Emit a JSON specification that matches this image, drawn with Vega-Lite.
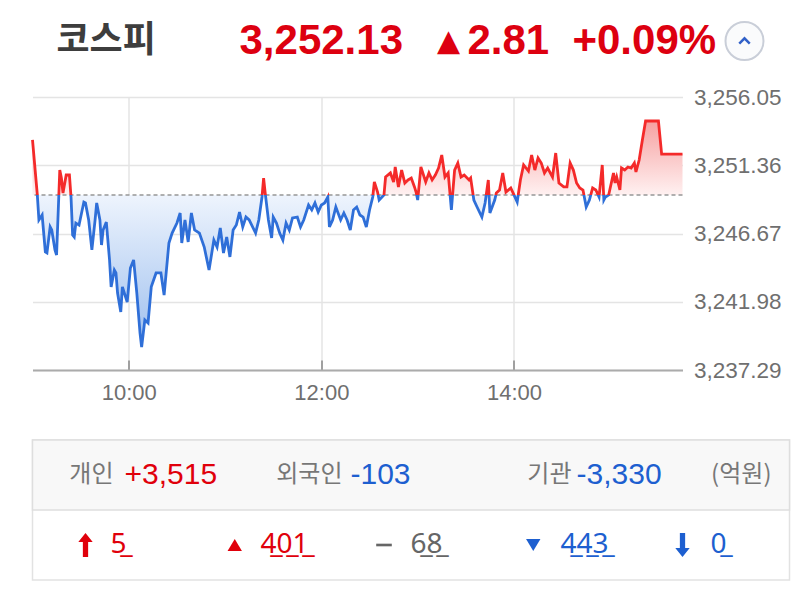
{
  "$schema": "https://vega.github.io/schema/vega-lite/v6.json",
  "padding": {"left": 26.5, "top": 0, "right": 10, "bottom": 10},
  "background": "white",
  "bounds": "flush",
  "spacing": 15,
  "config": {"view": {"stroke": null}, "font": "Liberation Sans"},
  "resolve": {"scale": {"color": "independent", "size": "independent", "shape": "independent"}},
  "datasets": {
    "header": [
      {"part": "name", "text": "코스피"},
      {"part": "quote", "text": "3,252.13\u00a0\u00a0\u00a0▴\u20092.81\u00a0\u00a0+0.09%"}
    ],
    "investors": [
      {"row": "r1", "item": "개인", "label": "개인", "net": "+3,515", "dir": "up"},
      {"row": "r1", "item": "외국인", "label": "외국인", "net": "-103", "dir": "down"},
      {"row": "r1", "item": "기관", "label": "기관", "net": "-3,330", "dir": "down"}
    ],
    "unit": [
      {"row": "r1", "item": "단위", "label": "(억원)"}
    ],
    "breadth": [
      {"row": "r2", "item": "상한", "count": 5, "dir": "up"},
      {"row": "r2", "item": "상승", "count": 401, "dir": "up"},
      {"row": "r2", "item": "보합", "count": 68, "dir": "flat"},
      {"row": "r2", "item": "하락", "count": 443, "dir": "down"},
      {"row": "r2", "item": "하한", "count": 0, "dir": "down"}
    ],
    "price": [
      {"t":"2025-07-01T09:00","v":3253.10},{"t":"2025-07-01T09:03","v":3249.32},{"t":"2025-07-01T09:04","v":3247.60},{"t":"2025-07-01T09:06","v":3247.94},
      {"t":"2025-07-01T09:08","v":3245.40},{"t":"2025-07-01T09:09","v":3245.33},{"t":"2025-07-01T09:11","v":3247.12},{"t":"2025-07-01T09:12","v":3246.91},
      {"t":"2025-07-01T09:14","v":3245.54},{"t":"2025-07-01T09:15","v":3245.19},{"t":"2025-07-01T09:17","v":3251.03},{"t":"2025-07-01T09:18","v":3250.48},
      {"t":"2025-07-01T09:19","v":3249.45},{"t":"2025-07-01T09:21","v":3250.69},{"t":"2025-07-01T09:23","v":3250.69},{"t":"2025-07-01T09:24","v":3249.18},
      {"t":"2025-07-01T09:25","v":3246.57},{"t":"2025-07-01T09:26","v":3246.43},{"t":"2025-07-01T09:27","v":3247.39},{"t":"2025-07-01T09:29","v":3247.25},
      {"t":"2025-07-01T09:32","v":3248.83},{"t":"2025-07-01T09:33","v":3248.77},{"t":"2025-07-01T09:35","v":3247.60},{"t":"2025-07-01T09:37","v":3245.54},
      {"t":"2025-07-01T09:39","v":3247.60},{"t":"2025-07-01T09:40","v":3248.77},{"t":"2025-07-01T09:42","v":3247.60},{"t":"2025-07-01T09:43","v":3245.88},
      {"t":"2025-07-01T09:44","v":3246.91},{"t":"2025-07-01T09:46","v":3247.46},{"t":"2025-07-01T09:48","v":3244.85},{"t":"2025-07-01T09:49","v":3243.00},
      {"t":"2025-07-01T09:51","v":3244.16},{"t":"2025-07-01T09:52","v":3243.96},{"t":"2025-07-01T09:53","v":3242.58},{"t":"2025-07-01T09:55","v":3241.28},
      {"t":"2025-07-01T09:56","v":3243.00},{"t":"2025-07-01T09:59","v":3241.96},{"t":"2025-07-01T10:01","v":3244.30},{"t":"2025-07-01T10:03","v":3244.85},
      {"t":"2025-07-01T10:05","v":3242.58},{"t":"2025-07-01T10:07","v":3239.83},{"t":"2025-07-01T10:08","v":3238.87},{"t":"2025-07-01T10:10","v":3240.73},
      {"t":"2025-07-01T10:12","v":3240.52},{"t":"2025-07-01T10:14","v":3243.00},{"t":"2025-07-01T10:17","v":3243.96},{"t":"2025-07-01T10:20","v":3243.96},
      {"t":"2025-07-01T10:22","v":3242.44},{"t":"2025-07-01T10:25","v":3246.02},{"t":"2025-07-01T10:27","v":3246.70},{"t":"2025-07-01T10:30","v":3247.39},
      {"t":"2025-07-01T10:32","v":3248.08},{"t":"2025-07-01T10:33","v":3246.02},{"t":"2025-07-01T10:35","v":3247.60},{"t":"2025-07-01T10:37","v":3246.09},
      {"t":"2025-07-01T10:39","v":3248.08},{"t":"2025-07-01T10:41","v":3246.91},{"t":"2025-07-01T10:44","v":3246.70},{"t":"2025-07-01T10:47","v":3245.74},
      {"t":"2025-07-01T10:50","v":3244.16},{"t":"2025-07-01T10:53","v":3246.22},{"t":"2025-07-01T10:55","v":3245.74},{"t":"2025-07-01T10:57","v":3247.05},
      {"t":"2025-07-01T10:59","v":3245.33},{"t":"2025-07-01T11:01","v":3246.43},{"t":"2025-07-01T11:03","v":3245.06},{"t":"2025-07-01T11:05","v":3246.91},
      {"t":"2025-07-01T11:07","v":3247.25},{"t":"2025-07-01T11:09","v":3248.15},{"t":"2025-07-01T11:11","v":3247.12},{"t":"2025-07-01T11:13","v":3247.80},
      {"t":"2025-07-01T11:15","v":3247.60},{"t":"2025-07-01T11:19","v":3246.70},{"t":"2025-07-01T11:21","v":3247.60},{"t":"2025-07-01T11:23","v":3249.18},
      {"t":"2025-07-01T11:24","v":3250.48},{"t":"2025-07-01T11:25","v":3249.45},{"t":"2025-07-01T11:27","v":3247.60},{"t":"2025-07-01T11:29","v":3246.36},
      {"t":"2025-07-01T11:30","v":3247.80},{"t":"2025-07-01T11:32","v":3247.39},{"t":"2025-07-01T11:34","v":3246.70},{"t":"2025-07-01T11:36","v":3246.22},
      {"t":"2025-07-01T11:38","v":3247.39},{"t":"2025-07-01T11:40","v":3246.91},{"t":"2025-07-01T11:42","v":3247.74},{"t":"2025-07-01T11:45","v":3247.80},
      {"t":"2025-07-01T11:47","v":3247.12},{"t":"2025-07-01T11:49","v":3247.60},{"t":"2025-07-01T11:52","v":3248.63},{"t":"2025-07-01T11:54","v":3248.29},
      {"t":"2025-07-01T11:56","v":3248.77},{"t":"2025-07-01T11:58","v":3248.15},{"t":"2025-07-01T12:00","v":3248.63},{"t":"2025-07-01T12:02","v":3248.77},
      {"t":"2025-07-01T12:04","v":3249.18},{"t":"2025-07-01T12:05","v":3247.12},{"t":"2025-07-01T12:07","v":3247.60},{"t":"2025-07-01T12:09","v":3248.49},
      {"t":"2025-07-01T12:12","v":3247.60},{"t":"2025-07-01T12:14","v":3248.08},{"t":"2025-07-01T12:16","v":3247.60},{"t":"2025-07-01T12:18","v":3246.91},
      {"t":"2025-07-01T12:20","v":3248.29},{"t":"2025-07-01T12:22","v":3248.49},{"t":"2025-07-01T12:24","v":3247.94},{"t":"2025-07-01T12:26","v":3247.80},
      {"t":"2025-07-01T12:28","v":3247.12},{"t":"2025-07-01T12:30","v":3248.29},{"t":"2025-07-01T12:32","v":3249.18},{"t":"2025-07-01T12:33","v":3250.21},
      {"t":"2025-07-01T12:35","v":3249.52},{"t":"2025-07-01T12:36","v":3248.97},{"t":"2025-07-01T12:39","v":3249.32},{"t":"2025-07-01T12:40","v":3250.55},
      {"t":"2025-07-01T12:43","v":3250.83},{"t":"2025-07-01T12:45","v":3250.21},{"t":"2025-07-01T12:46","v":3251.24},{"t":"2025-07-01T12:48","v":3249.87},
      {"t":"2025-07-01T12:50","v":3251.03},{"t":"2025-07-01T12:52","v":3250.14},{"t":"2025-07-01T12:54","v":3250.35},{"t":"2025-07-01T12:56","v":3250.48},
      {"t":"2025-07-01T12:58","v":3249.87},{"t":"2025-07-01T12:59","v":3249.52},{"t":"2025-07-01T13:00","v":3248.97},{"t":"2025-07-01T13:02","v":3251.24},
      {"t":"2025-07-01T13:05","v":3250.21},{"t":"2025-07-01T13:07","v":3250.83},{"t":"2025-07-01T13:09","v":3250.35},{"t":"2025-07-01T13:11","v":3250.69},
      {"t":"2025-07-01T13:13","v":3251.17},{"t":"2025-07-01T13:15","v":3252.06},{"t":"2025-07-01T13:17","v":3250.55},{"t":"2025-07-01T13:19","v":3250.83},
      {"t":"2025-07-01T13:21","v":3248.29},{"t":"2025-07-01T13:23","v":3251.03},{"t":"2025-07-01T13:25","v":3251.51},{"t":"2025-07-01T13:27","v":3250.55},
      {"t":"2025-07-01T13:29","v":3250.69},{"t":"2025-07-01T13:32","v":3250.35},{"t":"2025-07-01T13:33","v":3250.48},{"t":"2025-07-01T13:35","v":3248.97},
      {"t":"2025-07-01T13:37","v":3248.49},{"t":"2025-07-01T13:40","v":3247.80},{"t":"2025-07-01T13:42","v":3248.77},{"t":"2025-07-01T13:44","v":3250.35},
      {"t":"2025-07-01T13:45","v":3248.08},{"t":"2025-07-01T13:48","v":3248.97},{"t":"2025-07-01T13:49","v":3249.45},{"t":"2025-07-01T13:51","v":3249.66},
      {"t":"2025-07-01T13:53","v":3250.83},{"t":"2025-07-01T13:55","v":3249.52},{"t":"2025-07-01T13:58","v":3249.80},{"t":"2025-07-01T14:00","v":3249.32},
      {"t":"2025-07-01T14:02","v":3248.83},{"t":"2025-07-01T14:04","v":3250.35},{"t":"2025-07-01T14:06","v":3251.38},{"t":"2025-07-01T14:09","v":3250.96},
      {"t":"2025-07-01T14:11","v":3252.06},{"t":"2025-07-01T14:13","v":3251.03},{"t":"2025-07-01T14:15","v":3251.86},{"t":"2025-07-01T14:17","v":3251.51},
      {"t":"2025-07-01T14:19","v":3250.83},{"t":"2025-07-01T14:21","v":3251.17},{"t":"2025-07-01T14:24","v":3250.55},{"t":"2025-07-01T14:26","v":3252.20},
      {"t":"2025-07-01T14:28","v":3250.14},{"t":"2025-07-01T14:31","v":3249.87},{"t":"2025-07-01T14:33","v":3249.87},{"t":"2025-07-01T14:35","v":3251.51},
      {"t":"2025-07-01T14:37","v":3251.03},{"t":"2025-07-01T14:39","v":3250.14},{"t":"2025-07-01T14:41","v":3249.80},{"t":"2025-07-01T14:43","v":3249.66},
      {"t":"2025-07-01T14:45","v":3248.49},{"t":"2025-07-01T14:47","v":3248.97},{"t":"2025-07-01T14:49","v":3249.80},{"t":"2025-07-01T14:51","v":3249.66},
      {"t":"2025-07-01T14:53","v":3249.18},{"t":"2025-07-01T14:55","v":3251.38},{"t":"2025-07-01T14:56","v":3248.97},{"t":"2025-07-01T14:57","v":3249.18},
      {"t":"2025-07-01T14:59","v":3249.32},{"t":"2025-07-01T15:02","v":3250.83},{"t":"2025-07-01T15:03","v":3250.14},{"t":"2025-07-01T15:04","v":3250.55},
      {"t":"2025-07-01T15:06","v":3249.66},{"t":"2025-07-01T15:07","v":3251.17},{"t":"2025-07-01T15:09","v":3251.03},{"t":"2025-07-01T15:11","v":3251.24},
      {"t":"2025-07-01T15:13","v":3251.17},{"t":"2025-07-01T15:15","v":3251.51},{"t":"2025-07-01T15:16","v":3250.90},{"t":"2025-07-01T15:18","v":3251.72},
      {"t":"2025-07-01T15:20","v":3253.10},{"t":"2025-07-01T15:22","v":3254.40},{"t":"2025-07-01T15:30","v":3254.40},{"t":"2025-07-01T15:32","v":3252.13},
      {"t":"2025-07-01T15:45","v":3252.13}
    ]
  },
  "vconcat": [
    {
      "width": 757,
      "height": 82,
      "resolve": {"scale": {"x": "independent"}},
      "layer": [
        {
          "data": {"name": "header"},
          "mark": {"type": "text", "align": "left", "baseline": "middle", "fontWeight": "bold", "font": "Liberation Sans, Noto Sans CJK KR"},
          "encoding": {
            "x": {"field": "part", "type": "nominal", "scale": {"type": "point", "padding": 0, "domain": ["name", "quote"], "range": [24, 207]}, "axis": null},
            "text": {"field": "text"},
            "color": {"field": "part", "type": "nominal", "scale": {"domain": ["name", "quote"], "range": ["#3d3d3d", "#dd0010"]}, "legend": null},
            "size": {"field": "part", "type": "nominal", "scale": {"domain": ["name", "quote"], "range": [36, 42]}, "legend": null}
          }
        },
        {
          "data": {"values": [{"part": "toggle"}]},
          "mark": {"type": "point", "shape": "circle", "size": 1444, "filled": true, "fill": "#fafbfc", "stroke": "#c9ced8", "strokeWidth": 2, "opacity": 1},
          "encoding": {
            "x": {"field": "part", "type": "nominal", "scale": {"type": "point", "padding": 0, "domain": ["toggle"], "range": [712, 712]}, "axis": null}
          }
        },
        {
          "data": {"values": [{"part": "toggle"}]},
          "mark": {"type": "point", "shape": "M-1,0.5L0,-0.5L1,0.5", "size": 110, "filled": false, "fill": null, "stroke": "#3060c8", "strokeWidth": 2.5, "opacity": 1},
          "encoding": {
            "x": {"field": "part", "type": "nominal", "scale": {"type": "point", "padding": 0, "domain": ["toggle"], "range": [712, 712]}, "axis": null}
          }
        }
      ]
    },
    {
      "width": 650,
      "height": 273,
      "layer": [
        {
          "data": {"name": "price"},
          "mark": {"type": "area", "line": false, "fill": {"gradient": "linear", "x1": 0, "y1": 0, "x2": 0, "y2": 1, "stops": [
            {"offset": 0, "color": "#f6a0a0"},
            {"offset": 0.3271, "color": "#fff1f1"},
            {"offset": 0.3271, "color": "#eef4fd"},
            {"offset": 1, "color": "#9dbfee"}
          ]}},
          "encoding": {
            "x": {"field": "t", "type": "temporal",
              "scale": {"domain": [{"year": 2025, "month": 7, "date": 1, "hours": 9, "minutes": 0}, {"year": 2025, "month": 7, "date": 1, "hours": 15, "minutes": 45}]},
              "axis": {"title": null, "format": "%H:%M",
                "values": [{"year": 2025, "month": 7, "date": 1, "hours": 10}, {"year": 2025, "month": 7, "date": 1, "hours": 12}, {"year": 2025, "month": 7, "date": 1, "hours": 14}],
                "labelFont": "Liberation Sans", "labelFontSize": 22, "labelColor": "#6f6f6f", "labelPadding": 22,
                "labelFlush": false, "labelOverlap": false,
                "domainColor": "#ababab", "domainWidth": 2,
                "tickColor": "#a0a0a0", "tickWidth": 2, "tickSize": -10,
                "grid": true, "gridColor": "#e4e4e4", "gridWidth": 1.5}},
            "y": {"field": "v", "type": "quantitative",
              "scale": {"domain": [3237.29, 3256.05], "nice": false, "zero": false},
              "axis": {"title": null, "orient": "right", "values": [3237.29, 3241.98, 3246.67, 3251.36, 3256.05], "format": ",.2f",
                "labelFont": "Liberation Sans", "labelFontSize": 22.5, "labelColor": "#6f6f6f", "labelPadding": 11,
                "labelFlush": false, "labelOverlap": false,
                "domain": false, "ticks": false, "grid": true, "gridColor": "#e4e4e4", "gridWidth": 1.5}},
            "y2": {"datum": 3249.32}
          }
        },
        {
          "data": {"values": [{}]},
          "mark": {"type": "rule", "color": "#969696", "strokeDash": [4, 3], "strokeWidth": 1.5},
          "encoding": {"y": {"datum": 3249.32, "type": "quantitative", "scale": {"domain": [3237.29, 3256.05], "nice": false, "zero": false}}}
        },
        {
          "data": {"name": "price"},
          "mark": {"type": "line", "strokeWidth": 2.8, "interpolate": "linear", "stroke": {"gradient": "linear", "x1": 0, "y1": 0, "x2": 0, "y2": 1, "stops": [
            {"offset": 0, "color": "#f42a2a"},
            {"offset": 0.3271, "color": "#f42a2a"},
            {"offset": 0.3271, "color": "#2f6fd8"},
            {"offset": 1, "color": "#2f6fd8"}
          ]}},
          "encoding": {
            "x": {"field": "t", "type": "temporal", "scale": {"domain": [{"year": 2025, "month": 7, "date": 1, "hours": 9, "minutes": 0}, {"year": 2025, "month": 7, "date": 1, "hours": 15, "minutes": 45}]}},
            "y": {"field": "v", "type": "quantitative", "scale": {"domain": [3237.29, 3256.05], "nice": false, "zero": false}}
          }
        }
      ]
    },
    {
      "width": 757,
      "height": 40,
      "data": {"values": [{}]},
      "mark": {"type": "text"},
      "encoding": {"text": {"value": ""}}
    },
    {
      "width": 757,
      "height": 140,
      "view": {"fill": "white", "stroke": "#e2e2e2", "strokeWidth": 1.5},
      "resolve": {"scale": {"x": "independent"}},
      "layer": [
        {
          "data": {"values": [{"row": "r1"}]},
          "mark": {"type": "rect", "fill": "#f8f8f8", "stroke": "#dedede", "strokeWidth": 1.5},
          "encoding": {
            "y": {"field": "row", "type": "nominal", "scale": {"domain": ["r1", "r2"], "paddingInner": 0, "paddingOuter": 0}, "axis": null}
          }
        },
        {
          "data": {"name": "investors"},
          "mark": {"type": "text", "align": "right", "baseline": "middle", "font": "Noto Sans CJK KR", "fontSize": 24, "color": "#777777"},
          "encoding": {
            "x": {"field": "item", "type": "nominal", "scale": {"type": "point", "padding": 0, "domain": ["개인", "외국인", "기관"], "range": [81, 539]}, "axis": null},
            "y": {"field": "row", "type": "nominal", "scale": {"domain": ["r1", "r2"], "paddingInner": 0, "paddingOuter": 0}, "axis": null},
            "text": {"field": "label"}
          }
        },
        {
          "data": {"name": "unit"},
          "mark": {"type": "text", "align": "right", "baseline": "middle", "font": "Noto Sans CJK KR", "fontSize": 24, "color": "#777777"},
          "encoding": {
            "x": {"field": "item", "type": "nominal", "scale": {"type": "point", "padding": 0, "domain": ["단위"], "range": [739, 739]}, "axis": null},
            "y": {"field": "row", "type": "nominal", "scale": {"domain": ["r1", "r2"], "paddingInner": 0, "paddingOuter": 0}, "axis": null},
            "text": {"field": "label"}
          }
        },
        {
          "data": {"name": "investors"},
          "mark": {"type": "text", "align": "left", "baseline": "middle", "font": "Liberation Sans", "fontSize": 30},
          "encoding": {
            "x": {"field": "item", "type": "nominal", "scale": {"type": "point", "padding": 0, "domain": ["개인", "외국인", "기관"], "range": [92, 544]}, "axis": null},
            "y": {"field": "row", "type": "nominal", "scale": {"domain": ["r1", "r2"], "paddingInner": 0, "paddingOuter": 0}, "axis": null},
            "text": {"field": "net"},
            "color": {"field": "dir", "type": "nominal", "scale": {"domain": ["up", "flat", "down"], "range": ["#e0000b", "#666666", "#1d5fd0"]}, "legend": null}
          }
        },
        {
          "data": {"name": "breadth"},
          "mark": {"type": "point", "filled": true, "opacity": 1, "strokeWidth": 0},
          "encoding": {
            "x": {"field": "item", "type": "nominal", "scale": {"type": "point", "padding": 0, "domain": ["상한", "상승", "보합", "하락", "하한"], "range": [53, 650]}, "axis": null},
            "y": {"field": "row", "type": "nominal", "scale": {"domain": ["r1", "r2"], "paddingInner": 0, "paddingOuter": 0}, "axis": null},
            "shape": {"field": "item", "type": "nominal", "scale": {"domain": ["상한", "상승", "보합", "하락", "하한"], "range": [
              "M0,-1L0.6,-0.25L0.22,-0.25L0.22,1L-0.22,1L-0.22,-0.25L-0.6,-0.25Z",
              "M0,-0.5L0.6,0.5L-0.6,0.5Z",
              "M-0.65,-0.11L0.65,-0.11L0.65,0.11L-0.65,0.11Z",
              "M-0.6,-0.5L0.6,-0.5L0,0.5Z",
              "M0,1L0.6,0.25L0.22,0.25L0.22,-1L-0.22,-1L-0.22,0.25L-0.6,0.25Z"
            ]}, "legend": null},
            "size": {"value": 576},
            "color": {"field": "dir", "type": "nominal", "scale": {"domain": ["up", "flat", "down"], "range": ["#e0000b", "#666666", "#1d5fd0"]}, "legend": null}
          }
        },
        {
          "data": {"name": "breadth"},
          "transform": [{"calculate": "replace(toString(datum.count), regexp('(.)', 'g'), '$1\u0332')", "as": "shown"}],
          "mark": {"type": "text", "align": "left", "baseline": "middle", "font": "Noto Sans", "fontSize": 28},
          "encoding": {
            "x": {"field": "item", "type": "nominal", "scale": {"type": "point", "padding": 0, "domain": ["상한", "상승", "보합", "하락", "하한"], "range": [78, 678]}, "axis": null},
            "y": {"field": "row", "type": "nominal", "scale": {"domain": ["r1", "r2"], "paddingInner": 0, "paddingOuter": 0}, "axis": null},
            "text": {"field": "shown"},
            "color": {"field": "dir", "type": "nominal", "scale": {"domain": ["up", "flat", "down"], "range": ["#e0000b", "#666666", "#1d5fd0"]}, "legend": null}
          }
        }
      ]
    }
  ]
}
